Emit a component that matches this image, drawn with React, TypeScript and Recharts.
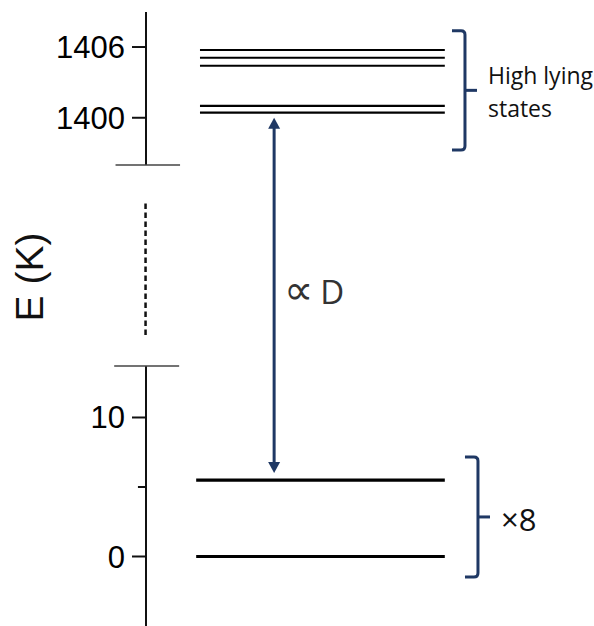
import React from 'react'
import {
  ComposedChart,
  Line,
  XAxis,
  YAxis,
  ReferenceLine
} from 'recharts'

// energy levels (K)
const lowLevels = [0, 5.5]
const highLevels = [1400.43, 1401.0, 1404.41, 1405.09, 1405.75]

// axis ticks (K)
const majorTicks = [0, 10, 1400, 1406]
const minorTicks = [5]

// brace spans (K) and their captions
const highBrace = [1397.26, 1407.39]
const lowBrace = [-1.47, 7.16]
const highCaption = ['High lying', 'states']
const lowCaption = ['×8']
const arrowSymbol = '∝'
const arrowCaption = 'D'

// broken axis: lower segment is plain K, upper segment is squeezed above the gap
const LOW_TOP = 13.7
const GAP_DASH = [15.93, 25.5]
const UPPER_FLOOR = 1396
const UPPER_BASE = 28.17
const UPPER_SCALE = 0.848
const Y_DOMAIN = [-5, 39.17]

const toAxis = (e: number) => (e < 100 ? e : UPPER_BASE + (e - UPPER_FLOOR) * UPPER_SCALE)
const fromAxis = (a: number) => (a <= LOW_TOP ? a : UPPER_FLOOR + (a - UPPER_BASE) / UPPER_SCALE)

const NAVY = '#1f3864'
const INK = '#111'
const SANS = '"Open Sans", "DejaVu Sans", sans-serif'
const ARIAL = '"Liberation Sans", Arial, sans-serif'

const LOW_SPAN = [11.2, 66.7]
const HIGH_SPAN = [12.05, 66.7]

const levelData = (e: number, span: number[]) => [
  { x: span[0], y: toAxis(e) },
  { x: span[1], y: toAxis(e) }
]

const ArrowShape = (props: any) => {
  const { x1, y1, y2 } = props
  const top = Math.min(y1, y2) + 5
  const bottom = Math.max(y1, y2) - 7
  const head = 11
  const half = 6
  const mid = (top + bottom) / 2
  return (
    <g>
      <line x1={x1} x2={x1} y1={top + head - 1} y2={bottom - head + 1} stroke={NAVY} strokeWidth={3} />
      <polygon points={`${x1},${top} ${x1 - half},${top + head} ${x1 + half},${top + head}`} fill={NAVY} />
      <polygon points={`${x1},${bottom} ${x1 - half},${bottom - head} ${x1 + half},${bottom - head}`} fill={NAVY} />
      <text x={x1 + 10} y={mid + 9} fontSize={41} fontFamily='"DejaVu Sans", sans-serif' fill="#333">
        {arrowSymbol}
      </text>
      <text x={x1 + 46} y={mid + 9} fontSize={33} fontFamily={SANS} fill="#333">
        {arrowCaption}
      </text>
    </g>
  )
}

const makeBrace = (lines: string[], fontSize: number, lineGap: number, firstDy: number) => (props: any) => {
  const { x1, y1, y2 } = props
  const top = Math.min(y1, y2)
  const bottom = Math.max(y1, y2)
  const mid = (top + bottom) / 2
  const w = 13
  const t = 12
  const r = 4
  const vx = x1 + w
  const d = `M ${x1} ${top} H ${vx - r} Q ${vx} ${top} ${vx} ${top + r} V ${bottom - r} Q ${vx} ${bottom} ${vx - r} ${bottom} H ${x1}`
  return (
    <g>
      <path d={d} fill="none" stroke={NAVY} strokeWidth={3} />
      <line x1={vx} x2={vx + t} y1={mid} y2={mid} stroke={NAVY} strokeWidth={3} />
      {lines.map((s, i) => (
        <text key={i} x={vx + t + 11} y={mid + firstDy + i * lineGap} fontSize={fontSize} fontFamily={SANS} fill={INK}>
          {s}
        </text>
      ))}
    </g>
  )
}

const HighBrace = makeBrace(highCaption, 23, 33, -6)
const LowBrace = makeBrace(lowCaption, 31, 0, 14)

const AxisTitle = ({ viewBox }: any) => {
  const x = viewBox.x + 43
  const y = 277
  return (
    <text x={x} y={y} transform={`rotate(-90 ${x} ${y})`} textAnchor="middle" fontSize={39} fontFamily={ARIAL} fill={INK}>
      E (K)
    </text>
  )
}

export default function App() {
  const lowY0 = Y_DOMAIN[0]
  const upY0 = toAxis(UPPER_FLOOR)
  return (
    <div style={{ position: 'absolute', left: 0, top: 0, width: 594, height: 626, background: '#fff' }}>
      <ComposedChart width={594} height={626} margin={{ top: 12, right: 0, bottom: 0, left: 0 }}>
        <XAxis type="number" dataKey="x" domain={[0, 100]} hide allowDataOverflow />
        <YAxis
          type="number"
          domain={Y_DOMAIN}
          width={146}
          axisLine={false}
          ticks={majorTicks.map(toAxis)}
          tickFormatter={(a: number) => String(Math.round(fromAxis(a)))}
          tickSize={14}
          tickMargin={7}
          tickLine={{ stroke: INK, strokeWidth: 2 }}
          tick={{ fontSize: 31, fontFamily: ARIAL, fill: '#000' }}
          label={<AxisTitle />}
          allowDataOverflow
        />

        {/* axis segments, break marks and the gap */}
        <ReferenceLine segment={[{ x: 0, y: lowY0 }, { x: 0, y: LOW_TOP }]} stroke={INK} strokeWidth={2} ifOverflow="visible" />
        <ReferenceLine segment={[{ x: 0, y: upY0 }, { x: 0, y: Y_DOMAIN[1] }]} stroke={INK} strokeWidth={2} ifOverflow="visible" />
        <ReferenceLine segment={[{ x: -7.1, y: LOW_TOP }, { x: 7.4, y: LOW_TOP }]} stroke="#444" strokeWidth={1.5} ifOverflow="visible" />
        <ReferenceLine segment={[{ x: -6.8, y: upY0 }, { x: 7.6, y: upY0 }]} stroke="#444" strokeWidth={1.5} ifOverflow="visible" />
        <ReferenceLine
          segment={[{ x: -0.1, y: GAP_DASH[0] }, { x: -0.1, y: GAP_DASH[1] }]}
          stroke={INK}
          strokeWidth={2.5}
          strokeDasharray="5.5 3.5"
          ifOverflow="visible"
        />
        {minorTicks.map((v) => (
          <ReferenceLine key={v} segment={[{ x: -1.8, y: toAxis(v) }, { x: 0, y: toAxis(v) }]} stroke={INK} strokeWidth={2} ifOverflow="visible" />
        ))}

        {lowLevels.map((e) => (
          <Line
            key={`low-${e}`}
            data={levelData(e, LOW_SPAN)}
            dataKey="y"
            stroke="#000"
            strokeWidth={3.2}
            dot={false}
            activeDot={false}
            isAnimationActive={false}
          />
        ))}
        {highLevels.map((e) => (
          <Line
            key={`high-${e}`}
            data={levelData(e, HIGH_SPAN)}
            dataKey="y"
            stroke="#000"
            strokeWidth={2.2}
            dot={false}
            activeDot={false}
            isAnimationActive={false}
          />
        ))}

        <ReferenceLine
          segment={[{ x: 28.6, y: toAxis(lowLevels[1]) }, { x: 28.6, y: toAxis(highLevels[0]) }]}
          shape={ArrowShape}
          ifOverflow="visible"
        />
        <ReferenceLine
          segment={[{ x: 68.3, y: toAxis(highBrace[0]) }, { x: 68.3, y: toAxis(highBrace[1]) }]}
          shape={HighBrace}
          ifOverflow="visible"
        />
        <ReferenceLine
          segment={[{ x: 71.2, y: toAxis(lowBrace[0]) }, { x: 71.2, y: toAxis(lowBrace[1]) }]}
          shape={LowBrace}
          ifOverflow="visible"
        />
      </ComposedChart>
    </div>
  )
}
